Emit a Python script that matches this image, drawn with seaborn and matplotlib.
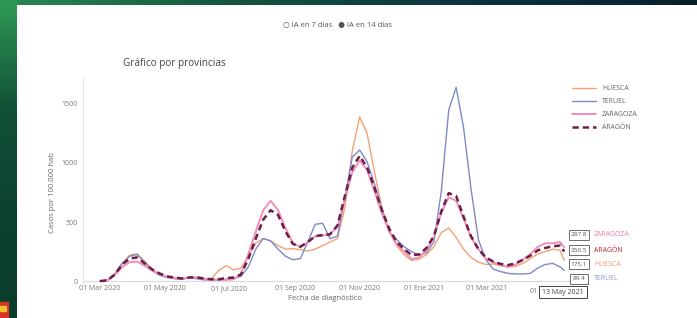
import matplotlib
matplotlib.use('Agg')

import numpy as np
import pandas as pd
import matplotlib.pyplot as plt
from matplotlib.colors import LinearSegmentedColormap
from matplotlib.lines import Line2D
from matplotlib.patches import Rectangle
import seaborn as sns

# ----------------------------------------------------------------------
# Datos (IA en 14 días, casos por 100.000 hab)
# ----------------------------------------------------------------------

fechas = list(pd.date_range('2020-03-01', '2021-05-09', freq='7D')) + [pd.Timestamp('2021-05-13')]

huesca = [0, 5, 60, 150, 220, 230, 170, 100, 60, 35,
          25, 20, 30, 30, 20, 20, 90, 130, 95, 110,
          210, 320, 360, 340, 300, 270, 275, 265, 255, 270,
          300, 330, 360, 620, 1100, 1390, 1250, 920, 620, 420,
          300, 220, 175, 185, 225, 290, 410, 450, 370, 270,
          200, 160, 140, 145, 130, 120, 125, 150, 190, 230,
          250, 270, 260, 175.1]

teruel = [0, 10, 60, 150, 210, 225, 160, 90, 50, 30,
          20, 15, 25, 20, 10, 10, 10, 15, 20, 40,
          120, 270, 360, 340, 270, 210, 180, 190, 330, 480,
          490, 360, 380, 700, 1050, 1110, 1010, 820, 600, 410,
          350, 290, 250, 220, 240, 330, 760, 1450, 1640, 1300,
          780, 350, 180, 100, 80, 65, 60, 60, 65, 110,
          140, 150, 120, 89.4]

zaragoza = [0, 5, 50, 120, 160, 165, 130, 90, 60, 35,
            25, 20, 30, 30, 20, 15, 10, 10, 15, 60,
            230, 420, 600, 680, 600, 450, 320, 290, 330, 380,
            385, 400, 460, 690, 920, 1020, 940, 760, 570, 420,
            310, 250, 185, 200, 260, 370, 580, 710, 680, 530,
            370, 270, 190, 160, 135, 120, 140, 180, 230, 290,
            320, 320, 330, 287.8]

aragon = [0, 5, 55, 140, 190, 200, 150, 100, 65, 40,
          30, 22, 30, 32, 22, 15, 15, 25, 30, 55,
          190, 360, 520, 600, 560, 420, 315, 290, 330, 380,
          390, 395, 470, 720, 960, 1060, 960, 790, 600, 440,
          330, 270, 220, 225, 280, 380, 590, 745, 720, 545,
          380, 270, 200, 165, 145, 135, 150, 180, 215, 260,
          280, 295, 300, 250.5]

provincias = ['HUESCA', 'TERUEL', 'ZARAGOZA', 'ARAGÓN']

tick_fechas = pd.to_datetime(['2020-03-01', '2020-05-01', '2020-07-01', '2020-09-01',
                              '2020-11-01', '2021-01-01', '2021-03-01'])
tick_labels = ['01 Mar 2020', '01 May 2020', '01 Jul 2020', '01 Sep 2020',
               '01 Nov 2020', '01 Ene 2021', '01 Mar 2021']

colores = {'HUESCA': '#f3a173', 'TERUEL': '#8088c8',
           'ZARAGOZA': '#f08fb8', 'ARAGÓN': '#6e1f48'}
guiones = {'HUESCA': '', 'TERUEL': '', 'ZARAGOZA': '', 'ARAGÓN': (2.5, 1.6)}
grosores = {'HUESCA': 1.0, 'TERUEL': 1.0, 'ZARAGOZA': 1.4, 'ARAGÓN': 1.8}
colores_etiqueta = {'ZARAGOZA': '#f07fae', 'ARAGÓN': '#c0282d',
                    'HUESCA': '#f39a6a', 'TERUEL': '#8f9ccc'}

df = pd.DataFrame({'fecha': fechas, 'HUESCA': huesca, 'TERUEL': teruel,
                   'ZARAGOZA': zaragoza, 'ARAGÓN': aragon})
df_long = df.melt(id_vars='fecha', var_name='provincia', value_name='ia')

# ----------------------------------------------------------------------
# Estilo
# ----------------------------------------------------------------------

sns.set_theme(style='white')
plt.rcParams['font.family'] = ['Open Sans', 'DejaVu Sans']

W, H = 697, 318
fig = plt.figure(figsize=(W / 100, H / 100), dpi=100)
fig.patch.set_facecolor('white')

# franjas de fondo (captura de pantalla)
cmap_top = LinearSegmentedColormap.from_list('top', ['#2a8a52', '#14553c', '#0b3340', '#08202c'])
ax_top = fig.add_axes([0, 1 - 5 / H, 1, 5 / H])
ax_top.imshow(np.linspace(0, 1, 200)[None, :], aspect='auto', cmap=cmap_top)
ax_top.axis('off')

cmap_left = LinearSegmentedColormap.from_list('left', ['#2f9a55', '#125238', '#0c4230', '#0b3d2c'])
ax_left = fig.add_axes([0, 0, 17 / W, 1])
ax_left.imshow(np.linspace(0, 1, 200)[:, None], aspect='auto', cmap=cmap_left)
ax_left.axis('off')
fig.add_artist(Rectangle((0, 0), 8 / W, 16 / H, transform=fig.transFigure,
                         color='#d8342a', zorder=5))
fig.add_artist(Rectangle((0, 7 / H), 6 / W, 5 / H, transform=fig.transFigure,
                         color='#f2c02a', zorder=6))

# ----------------------------------------------------------------------
# Gráfico
# ----------------------------------------------------------------------

ax = fig.add_axes([83 / W, 1 - 283.4 / H, 488.7 / W, (283.4 - 78) / H])

sns.lineplot(
    data=df_long,
    x='fecha',
    y='ia',
    hue='provincia',
    hue_order=provincias,
    style='provincia',
    style_order=provincias,
    size='provincia',
    size_order=provincias,
    palette=colores,
    dashes=guiones,
    sizes=grosores,
    legend=False,
    ax=ax
)

ax.set_xlim(pd.Timestamp('2020-02-14'), pd.Timestamp('2021-05-20'))
ax.set_ylim(-20, 1720)
ax.set_xticks(tick_fechas)
ax.set_xticklabels(tick_labels)
ax.set_yticks([0, 500, 1000, 1500])
ax.set_yticklabels(['0', '500', '1000', '1500'])
ax.tick_params(axis='both', length=0, labelsize=5, labelcolor='#777')
ax.tick_params(axis='x', pad=1.5)
ax.tick_params(axis='y', pad=4)
ax.set_xlabel('')
ax.set_ylabel('')
for s in ['top', 'right', 'bottom']:
    ax.spines[s].set_visible(False)
ax.spines['left'].set_color('#e6e6e6')
ax.spines['left'].set_linewidth(0.8)
ax.axhline(0, color='#dcdcdc', lw=0.9, zorder=0)

# "01 May 2021" queda tapado por la caja de la fecha: solo asoma "01"
ax.annotate('01', xy=(pd.Timestamp('2021-05-01'), 0), xycoords=('data', 'axes fraction'),
            xytext=(-10, -5.5), textcoords='offset points', ha='right', va='center',
            fontsize=5, color='#777')

handles = [Line2D([], [], color=colores[p], lw=grosores[p],
                  linestyle=(0, guiones[p]) if guiones[p] else '-') for p in provincias]
fig.legend(handles, provincias, loc='upper left', bbox_to_anchor=(566 / W, 1 - 79 / H),
           frameon=False, fontsize=5, handlelength=3.4, handletextpad=0.9,
           labelspacing=0.85, labelcolor='#666')

# ----------------------------------------------------------------------
# Textos
# ----------------------------------------------------------------------

fig.text(283 / W, 1 - 25 / H, '○ IA en 7 días   ● IA en 14 días',
         fontsize=5.5, color='#555', va='center')
fig.text(123 / W, 1 - 63 / H, 'Gráfico por provincias',
         fontsize=7.2, color='#444', va='center')
fig.text(325 / W, 1 - 298 / H, 'Fecha de diagnóstico',
         fontsize=5.5, color='#666', ha='center', va='center')
fig.text(52 / W, 1 - 193 / H, 'Casos por 100.000 hab',
         fontsize=5.5, color='#666', ha='center', va='center', rotation=90)

# etiquetas del último valor (hover)
ultimos = {'ZARAGOZA': zaragoza[-1], 'ARAGÓN': aragon[-1],
           'HUESCA': huesca[-1], 'TERUEL': teruel[-1]}
fila_y = {'ZARAGOZA': 235, 'ARAGÓN': 250, 'HUESCA': 264, 'TERUEL': 279}
caja = dict(boxstyle='square,pad=0.35', fc='white', ec='#555', lw=0.6)
for p in ['ZARAGOZA', 'ARAGÓN', 'HUESCA', 'TERUEL']:
    fig.text(579 / W, 1 - fila_y[p] / H, f'{ultimos[p]:.1f}', fontsize=4.6,
             color='#555', ha='center', va='center', bbox=caja)
    fig.text(594 / W, 1 - fila_y[p] / H, p, fontsize=5, color=colores_etiqueta[p],
             ha='left', va='center')

fig.text(563 / W, 1 - 292 / H, '13 May 2021', fontsize=5, color='#444',
         ha='center', va='center', bbox=dict(boxstyle='square,pad=0.4', fc='white',
                                             ec='#444', lw=0.7), zorder=10)

fig.savefig('out.png', dpi=100)
